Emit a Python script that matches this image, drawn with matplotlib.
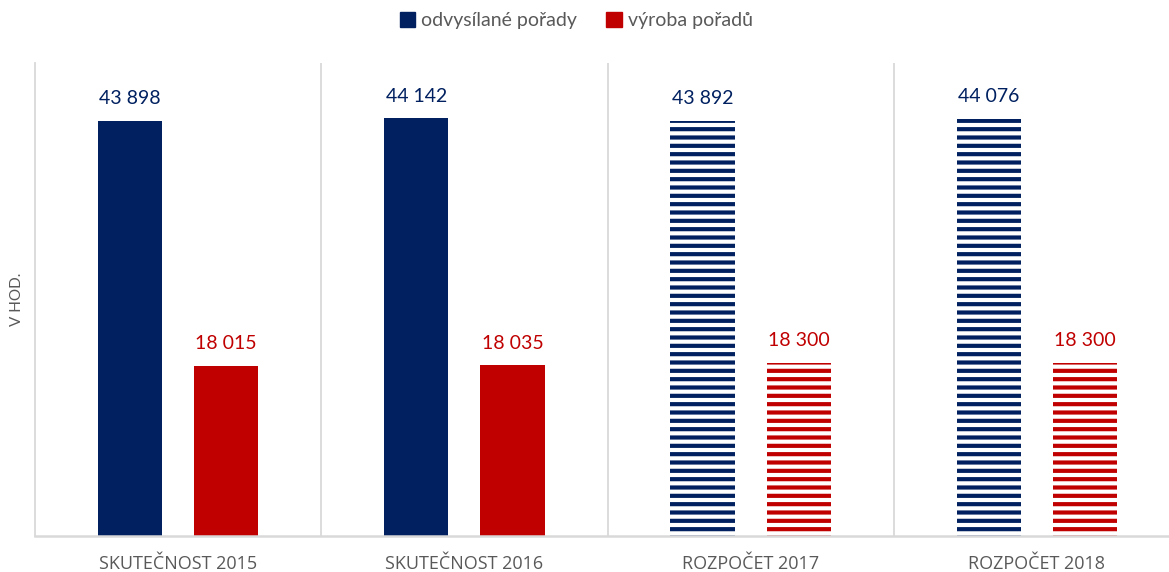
import numpy as np
import matplotlib.pyplot as plt

# data
categories = ['SKUTEČNOST 2015', 'SKUTEČNOST 2016', 'ROZPOČET 2017', 'ROZPOČET 2018']
odvysilane = [43898, 44142, 43892, 44076]
vyroba = [18015, 18035, 18300, 18300]
labels_odv = ['43 898', '44 142', '43 892', '44 076']
labels_vyr = ['18 015', '18 035', '18 300', '18 300']
planned = [False, False, True, True]   # rozpočet = šrafované sloupce

BLUE = '#002060'
RED = '#C00000'
GRAY = '#595959'
LINE = '#d9d9d9'

plt.rcParams['font.family'] = ['Lato', 'DejaVu Sans']
plt.rcParams['hatch.linewidth'] = 3.0

fig = plt.figure(figsize=(11.69, 5.72), dpi=100)
ax = fig.add_axes([35 / 1169, 36 / 572, 1133 / 1169, 473 / 572])

x = np.arange(len(categories))
w = 0.224
off = 0.168

for i in range(len(categories)):
    if planned[i]:
        ax.bar(x[i] - off, odvysilane[i], w, facecolor='white', edgecolor=BLUE,
               hatch='--', linewidth=0)
        ax.bar(x[i] + off, vyroba[i], w, facecolor='white', edgecolor=RED,
               hatch='--', linewidth=0)
    else:
        ax.bar(x[i] - off, odvysilane[i], w, color=BLUE)
        ax.bar(x[i] + off, vyroba[i], w, color=RED)
    ax.annotate(labels_odv[i], (x[i] - off, odvysilane[i]), xytext=(0, 10),
                textcoords='offset points', ha='center', va='bottom',
                fontsize=14, color=BLUE)
    ax.annotate(labels_vyr[i], (x[i] + off, vyroba[i]), xytext=(0, 10),
                textcoords='offset points', ha='center', va='bottom',
                fontsize=14, color=RED)

ax.set_xlim(-0.5, 3.5 - 12 / 286)
ax.set_ylim(0, 50000)

# oddělovače kategorií
for s in [0.5, 1.5, 2.5]:
    ax.axvline(s, color=LINE, linewidth=1.3, zorder=0)

ax.set_xticks(x)
ax.set_xticklabels(categories, family=['Open Sans', 'DejaVu Sans'],
                   fontsize=13, color=GRAY)
ax.tick_params(axis='x', length=0, pad=14)
ax.set_yticks([])
ax.set_ylabel('V HOD.', fontsize=11, color=GRAY, labelpad=8)

for side in ['top', 'right']:
    ax.spines[side].set_visible(False)
ax.spines['left'].set_color(LINE)
ax.spines['left'].set_linewidth(1.3)
ax.spines['bottom'].set_color(LINE)
ax.spines['bottom'].set_linewidth(1.8)

handles = [plt.Rectangle((0, 0), 1, 1, color=BLUE),
           plt.Rectangle((0, 0), 1, 1, color=RED)]
fig.legend(handles, ['odvysílané pořady', 'výroba pořadů'], loc='upper center',
           bbox_to_anchor=(0.493, 1.01), ncol=2, frameon=False, fontsize=14,
           labelcolor=GRAY, handlelength=0.8, handleheight=0.8,
           handletextpad=0.3, columnspacing=1.5)

fig.savefig('out.png', dpi=100)
